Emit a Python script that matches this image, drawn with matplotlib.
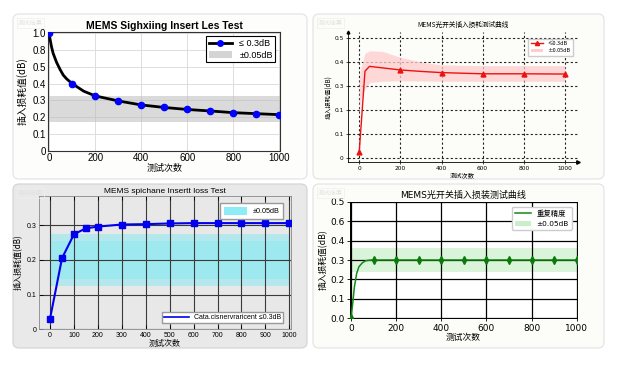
import numpy as np
import matplotlib
matplotlib.use('Agg')
import matplotlib.pyplot as plt
from matplotlib.patches import FancyBboxPatch, Patch
from matplotlib.lines import Line2D

W, H = 622, 368
ARIAL = ['Liberation Sans', 'Noto Sans CJK SC']
DEJAVU = ['DejaVu Sans', 'Noto Sans CJK SC']
CJK = ['Noto Sans CJK SC', 'DejaVu Sans']

# panel 1 (values in axis units, shown with the tick labels below)
p1_x = [0, 100, 200, 300, 400, 500, 600, 700, 800, 900, 1000]
p1_y = [0.70, 0.40, 0.327, 0.297, 0.273, 0.258, 0.246, 0.237, 0.227, 0.221, 0.215]
p1_line_x = [0, 3, 10, 17, 32, 47, 61, 76, 100, 150, 200, 300, 400, 500, 600, 700, 800, 900, 1000]
p1_line_y = [0.70, 0.67, 0.62, 0.581, 0.527, 0.485, 0.451, 0.428, 0.40, 0.355, 0.327, 0.297,
             0.273, 0.258, 0.246, 0.237, 0.227, 0.221, 0.215]
p1_band = (0.172, 0.327)
p1_yticks = [0, 0.1, 0.2, 0.3, 0.4, 0.5, 0.6, 0.7]
p1_ylabels = ['0', '0.1', '0.2', '0.3', '0.4', '0.5', '0.8', '1.0']

# panel 2
p2_line_x = [0, 28, 50, 200, 300, 400, 600, 800, 1000]
p2_line_y = [0.025, 0.362, 0.382, 0.367, 0.361, 0.356, 0.351, 0.351, 0.350]
p2_mark_x = [0, 200, 400, 600, 800, 1000]
p2_mark_y = [0.025, 0.367, 0.356, 0.351, 0.351, 0.350]
p2_band_x = [0, 10, 28, 52, 115, 200, 300, 400, 600, 1000]
p2_band_hi = [0.33, 0.38, 0.437, 0.447, 0.444, 0.42, 0.40, 0.388, 0.385, 0.385]
p2_band_lo = [0.20, 0.25, 0.29, 0.315, 0.32, 0.322, 0.321, 0.32, 0.32, 0.32]
p2_yticks = [0, 0.1, 0.2, 0.3, 0.4, 0.5]
p2_ylabels = ['0', '0.1', '0.1', '0.3', '0.4', '0.5']

# panel 3
p3_x = [0, 50, 100, 150, 200, 300, 400, 500, 600, 700, 800, 900, 1000]
p3_y = [0.031, 0.205, 0.274, 0.291, 0.296, 0.302, 0.303, 0.305, 0.306, 0.306, 0.306, 0.306, 0.306]
p3_band_outer = (0.125, 0.275)
p3_band_inner = (0.145, 0.255)

# panel 4
p4_line_x = [0, 8, 15, 25, 35, 50, 65, 80, 100, 200, 300, 400, 500, 600, 700, 800, 900, 1000]
p4_line_y = [0.0, 0.08, 0.16, 0.23, 0.265, 0.285, 0.296, 0.299, 0.30, 0.30, 0.30, 0.30, 0.30,
             0.30, 0.30, 0.30, 0.30, 0.30]
p4_mark_x = [0, 100, 200, 300, 400, 500, 600, 700, 800, 900, 1000]
p4_mark_y = [0.0, 0.30, 0.30, 0.30, 0.30, 0.30, 0.30, 0.30, 0.30, 0.30, 0.30]
p4_band = (0.24, 0.36)
p4_yticks = [0, 0.1, 0.2, 0.3, 0.4, 0.5, 0.6]
p4_ylabels = ['0.0', '0.1', '0.2', '0.3', '0.4', '0.6', '0.5']

fig = plt.figure(figsize=(W / 100, H / 100), dpi=100)
fig.patch.set_facecolor('white')


def card(l, t, r, b, fc, ec):
    p = FancyBboxPatch((l / 100, (H - b) / 100), (r - l) / 100, (b - t) / 100,
                       boxstyle='round,pad=0,rounding_size=0.06',
                       transform=fig.dpi_scale_trans, facecolor=fc, edgecolor=ec,
                       linewidth=0.8, zorder=-10)
    fig.patches.append(p)
    fig.text((l + 5) / W, 1 - (t + 9) / H, '测试结果', family=CJK, fontsize=4.5,
             color='#e2e2e2', va='center', ha='left',
             bbox=dict(boxstyle='square,pad=0.2', fc='none', ec='#eeeeee', lw=0.5))


def px_axes(l, t, r, b):
    return fig.add_axes([l / W, 1 - b / H, (r - l) / W, (b - t) / H])


card(13, 14, 307, 179, '#fdfdfb', '#e2e2e2')
card(313, 14, 604, 179, '#fcfcf8', '#e2e2e2')
card(13, 184, 307, 348, '#e9e9e9', '#d2d2d2')
card(313, 184, 604, 348, '#fcfcf8', '#e2e2e2')

# ---------------- panel 1
ax1 = px_axes(48.3, 31.7, 280, 150.7)
ax1.set_facecolor('white')
ax1.axhspan(p1_band[0], p1_band[1], color='#bdbdbd', alpha=0.55, lw=0, zorder=1)
ax1.plot(p1_line_x, p1_line_y, color='black', lw=2.0, zorder=3)
ax1.plot(p1_x, p1_y, 'o', color='blue', ms=4.5, zorder=4)
ax1.set_xlim(-4, 1003)
ax1.set_ylim(0, 0.71)
ax1.set_xticks(range(0, 1001, 200))
ax1.set_yticks(p1_yticks)
ax1.set_yticklabels(p1_ylabels)
ax1.grid(True, color='#dddddd', lw=0.7, zorder=0)
ax1.set_axisbelow(True)
ax1.tick_params(labelsize=7, length=0, pad=2)
for lab in ax1.get_xticklabels() + ax1.get_yticklabels():
    lab.set_family(ARIAL)
for s in ax1.spines.values():
    s.set_color('#333333')
    s.set_linewidth(0.8)
ax1.set_title('MEMS Sighxiing Insert Les Test', family=ARIAL, fontsize=7.5,
              fontweight='bold', pad=2)
ax1.set_xlabel('测试次数', family=CJK, fontsize=6.5, labelpad=0)
ax1.set_ylabel('插入损耗值(dB)', family=CJK, fontsize=7, labelpad=3)
h1 = [Line2D([], [], color='black', lw=2, marker='o', mfc='blue', mec='blue', ms=4),
      Patch(facecolor='#d4d4d4')]
leg = ax1.legend(h1, ['≤ 0.3dB', '±0.05dB'], loc='upper right',
                 prop={'family': ARIAL, 'size': 6.5}, fancybox=False, edgecolor='black',
                 framealpha=1, borderpad=0.3, handlelength=2.6, labelspacing=0.3,
                 borderaxespad=0.5)
leg.get_frame().set_linewidth(0.8)

# ---------------- panel 2
ax2 = px_axes(347.7, 32.3, 577.7, 161.7)
ax2.set_facecolor('none')
ax2.fill_between(p2_band_x, p2_band_lo, p2_band_hi, color='#ffcccc', alpha=0.75, lw=0, zorder=1)
ax2.plot(p2_line_x, p2_line_y, color='#ee1111', lw=1.0, zorder=3)
ax2.plot(p2_mark_x, p2_mark_y, '^', color='#ee1111', ms=3.5, zorder=4)
ax2.set_xlim(-56, 1062)
ax2.set_ylim(-0.0154, 0.524)
ax2.set_xticks(range(0, 1001, 200))
ax2.set_yticks(p2_yticks)
ax2.set_yticklabels(p2_ylabels)
ax2.grid(True, color='#222222', lw=0.8, ls=(0, (2, 2)), zorder=0)
ax2.set_axisbelow(True)
ax2.spines['top'].set_visible(False)
ax2.spines['right'].set_visible(False)
for s in ('left', 'bottom'):
    ax2.spines[s].set_linewidth(0.6)
ax2.plot(1, 0, '>', color='black', ms=2.5, transform=ax2.transAxes, clip_on=False)
ax2.plot(0, 1, '^', color='black', ms=2, transform=ax2.transAxes, clip_on=False)
ax2.tick_params(labelsize=4.2, length=1.5, width=0.5, pad=1.5)
ax2.set_title('MEMS光开关插入损耗测试曲线', family=CJK, fontsize=4.8, pad=4)
ax2.set_xlabel('测试次数', family=CJK, fontsize=4.5, labelpad=1)
ax2.set_ylabel('插入损耗值(dB)', family=CJK, fontsize=4.5, labelpad=1)
h2 = [Line2D([], [], color='#ee1111', lw=1, marker='^', ms=3),
      Patch(facecolor='#ffcccc')]
ax2.legend(h2, ['≤0.3dB', '±0.05dB'], loc='upper right', prop={'family': CJK, 'size': 4},
           fancybox=False, edgecolor='#cccccc', framealpha=1, borderpad=0.4,
           handlelength=2.2, labelspacing=0.4, bbox_to_anchor=(0.99, 0.97))

# ---------------- panel 3
ax3 = px_axes(39.3, 195.7, 290.7, 329.3)
ax3.set_facecolor('#e8e8e8')
ax3.fill_between([0, 1000], p3_band_outer[0], p3_band_outer[1], color='#6ae8f6', alpha=0.4,
                 lw=0, zorder=1)
ax3.fill_between([0, 1000], p3_band_inner[0], p3_band_inner[1], color='#6ae8f6', alpha=0.3,
                 lw=0, zorder=1)
ax3.plot(p3_x, p3_y, '-s', color='#0000ee', lw=1.5, ms=4.5, zorder=4)
ax3.set_xlim(-45, 1006)
ax3.set_ylim(0, 0.385)
ax3.set_xticks(range(0, 1001, 100))
ax3.set_yticks([0, 0.1, 0.2, 0.3])
ax3.set_yticklabels(['0', '0.1', '0.2', '0.3'])
ax3.grid(True, color='#3a3a3a', lw=0.8, zorder=2)
ax3.tick_params(labelsize=5, direction='in', top=True, length=3, width=0.6, pad=2)
for lab in ax3.get_xticklabels() + ax3.get_yticklabels():
    lab.set_family(ARIAL)
for s in ax3.spines.values():
    s.set_color('#888888')
    s.set_linewidth(0.6)
ax3.set_title('MEMS spichane Insertt loss Test', family=ARIAL, fontsize=6, pad=2)
ax3.set_xlabel('测试次数', family=CJK, fontsize=5.8, labelpad=0)
ax3.set_ylabel('插入损耗值(dB)', family=CJK, fontsize=5.8, labelpad=3)
leg3a = ax3.legend([Patch(facecolor='#8eecf6')], ['±0.05dB'], loc='upper right',
                   prop={'family': ARIAL, 'size': 5.2}, fancybox=False, edgecolor='#999999',
                   framealpha=1, borderpad=0.5, handlelength=3.2, handleheight=1.3,
                   bbox_to_anchor=(0.985, 0.97))
ax3.add_artist(leg3a)
ax3.legend([Line2D([], [], color='#0000ee', lw=1.2)], ['Cata.cisnervraricent ≤0.3dB'],
           loc='lower right', prop={'family': ARIAL, 'size': 5}, fancybox=False,
           edgecolor='#999999', framealpha=1, borderpad=0.3, handlelength=3.5,
           bbox_to_anchor=(0.985, 0.02))

# ---------------- panel 4
ax4 = px_axes(350.3, 201.7, 576.7, 318.3)
ax4.set_facecolor('white')
ax4.axhspan(p4_band[0], p4_band[1], color='#aee8ae', alpha=0.45, lw=0, zorder=1)
ax4.plot(p4_line_x, p4_line_y, color='#138a13', lw=1.1, zorder=3)
ax4.plot(p4_mark_x, p4_mark_y, 'd', color='#0a7a0a', ms=4, zorder=4)
ax4.set_xlim(-3, 1000)
ax4.set_ylim(0, 0.6)
ax4.set_xticks(range(0, 1001, 200))
ax4.set_yticks(p4_yticks)
ax4.set_yticklabels(p4_ylabels)
ax4.grid(True, color='black', lw=0.9, zorder=2)
ax4.tick_params(labelsize=6.5, length=2.5, width=0.6, pad=1.5)
for lab in ax4.get_xticklabels() + ax4.get_yticklabels():
    lab.set_family(DEJAVU)
for s in ax4.spines.values():
    s.set_linewidth(0.7)
ax4.set_title('MEMS光开关插入损装测试曲线', family=DEJAVU, fontsize=6.5, pad=3)
ax4.set_xlabel('测试次数', family=CJK, fontsize=6.3, labelpad=0)
ax4.set_ylabel('插入损耗值(dB)', family=CJK, fontsize=6.3, labelpad=2)
h4 = [Line2D([], [], color='#138a13', lw=1.1), Patch(facecolor='#c9efc9')]
ax4.legend(h4, ['重复精度', '±0.05dB'], loc='upper right', prop={'family': DEJAVU, 'size': 5.3},
           fancybox=True, edgecolor='#cccccc', framealpha=1, borderpad=0.4,
           handlelength=2.2, labelspacing=0.5, bbox_to_anchor=(0.995, 0.99))

fig.savefig('out.png', dpi=100)
